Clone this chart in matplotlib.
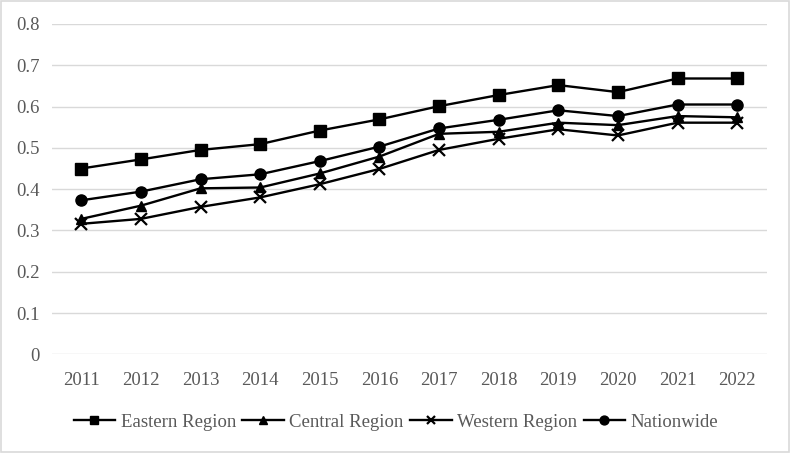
import matplotlib
matplotlib.use("Agg")
import matplotlib.pyplot as plt
from matplotlib.patches import Rectangle

years = ["2011", "2012", "2013", "2014", "2015", "2016", "2017", "2018", "2019", "2020", "2021", "2022"]
eastern = [0.450, 0.472, 0.495, 0.509, 0.542, 0.569, 0.601, 0.628, 0.652, 0.635, 0.668, 0.668]
central = [0.328, 0.360, 0.402, 0.404, 0.438, 0.479, 0.534, 0.539, 0.561, 0.555, 0.577, 0.574]
western = [0.316, 0.328, 0.357, 0.380, 0.412, 0.449, 0.495, 0.522, 0.545, 0.530, 0.561, 0.561]
nationwide = [0.373, 0.394, 0.424, 0.436, 0.468, 0.503, 0.547, 0.568, 0.591, 0.577, 0.605, 0.605]
yticks = [0, 0.1, 0.2, 0.3, 0.4, 0.5, 0.6, 0.7, 0.8]
ytick_labels = ["0", "0.1", "0.2", "0.3", "0.4", "0.5", "0.6", "0.7", "0.8"]

plt.rcParams['font.family'] = ['Liberation Serif', 'DejaVu Serif']
gray = '#595959'
fs = 13.5

fig = plt.figure(figsize=(7.91, 4.53), dpi=100)
ax = fig.add_axes([51.5/791, 1-354.3/453, (767-51.5)/791, (354.3-24)/453])

x = list(range(len(years)))
lw = 1.7
ax.plot(x, eastern, color='black', lw=lw, marker='s', ms=8, label='Eastern Region', zorder=5)
ax.plot(x, central, color='black', lw=lw, marker='^', ms=7, label='Central Region', zorder=5)
ax.plot(x, western, color='black', lw=lw, marker='x', ms=8, mew=1.6, label='Western Region', zorder=5)
ax.plot(x, nationwide, color='black', lw=lw, marker='o', ms=8, label='Nationwide', zorder=5)

ax.set_xlim(-0.5, len(years) - 0.5)
ax.set_ylim(0, 0.8)
ax.set_yticks(yticks)
ax.set_yticklabels(ytick_labels)
ax.set_xticks(x)
ax.set_xticklabels(years)
ax.yaxis.grid(True, color='#d9d9d9', lw=1.0)
ax.set_axisbelow(True)
for s in ax.spines.values():
    s.set_visible(False)
ax.tick_params(axis='both', length=0, labelsize=fs, colors=gray)
ax.tick_params(axis='y', pad=8.5)
ax.tick_params(axis='x', pad=12.5)

leg = fig.legend(loc='center', bbox_to_anchor=(396/791, 1-422/453), ncol=4, frameon=False,
                 fontsize=fs, handlelength=2.2, handletextpad=0.3, columnspacing=0.35,
                 markerscale=0.8)
for t in leg.get_texts():
    t.set_color(gray)

fig.patches.append(Rectangle((0.001, 0.002), 0.997, 0.995, transform=fig.transFigure,
                             fill=False, edgecolor='#d9d9d9', lw=1.2))

fig.savefig('out.png', dpi=100)
